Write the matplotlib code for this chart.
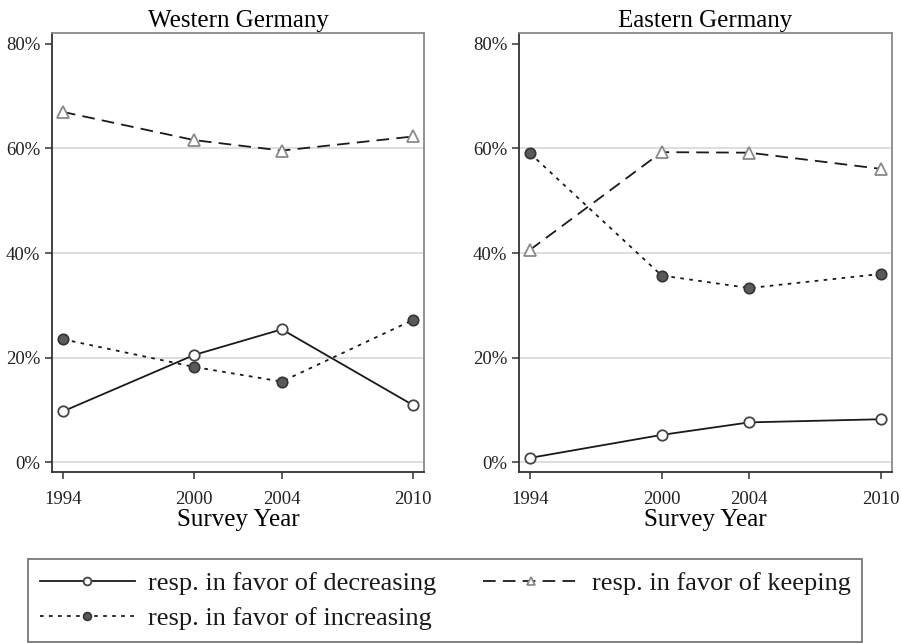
import matplotlib
matplotlib.use("Agg")
import matplotlib.pyplot as plt
from matplotlib.ticker import FuncFormatter

plt.rcParams['font.family'] = ['Liberation Serif', 'DejaVu Serif']

years = [1994, 2000, 2004, 2010]

# Western Germany
west_decr = [9.7, 20.5, 25.4, 10.9]
west_incr = [23.5, 18.2, 15.4, 27.2]
west_keep = [67.0, 61.6, 59.6, 62.3]

# Eastern Germany
east_decr = [0.8, 5.2, 7.6, 8.2]
east_incr = [59.1, 35.7, 33.3, 36.0]
east_keep = [40.6, 59.3, 59.2, 56.1]

yticks = [0, 20, 40, 60, 80]

fig = plt.figure(figsize=(9.01, 6.43), dpi=100)

def panel(ax, title, decr, incr, keep):
    for g in [0, 20, 40, 60]:
        ax.axhline(g, color='#d8d8d8', lw=1.2, zorder=0)
    ax.plot(years, decr, '-', color='#1a1a1a', lw=1.3, marker='o', ms=7.5,
            mfc='white', mec='#444444', mew=1.3,
            label='resp. in favor of decreasing')
    ax.plot(years, incr, color='#1a1a1a', lw=1.3, ls=(0, (2, 3)), marker='o',
            ms=7.5, mfc='#5a5a5a', mec='#333333', mew=1.2,
            label='resp. in favor of increasing')
    ax.plot(years, keep, color='#1a1a1a', lw=1.3, ls=(0, (7, 4)), marker='^',
            ms=8, mfc='white', mec='#8a8a8a', mew=1.3,
            label='resp. in favor of keeping')
    ax.set_xlim(1993.5, 2010.5)
    ax.set_ylim(-1.9, 82.1)
    ax.set_xticks(years)
    ax.set_yticks(yticks)
    ax.yaxis.set_major_formatter(FuncFormatter(lambda v, p: '%d%%' % v))
    ax.tick_params(labelsize=13.5, length=5, width=1.1, color='#333333',
                   labelcolor='#222222', direction='out')
    ax.tick_params(axis='x', pad=8.5)
    ax.set_title(title, fontsize=18, pad=4)
    ax.set_xlabel('Survey Year', fontsize=18, labelpad=1)
    ax.spines['left'].set_color('#333333')
    ax.spines['bottom'].set_color('#333333')
    ax.spines['top'].set_color('#8a8a8a')
    ax.spines['right'].set_color('#8a8a8a')
    for s in ax.spines.values():
        s.set_linewidth(1.3)

ax1 = fig.add_axes([0.0577, 0.2659, 0.4129, 0.6828])
panel(ax1, 'Western Germany', west_decr, west_incr, west_keep)
ax2 = fig.add_axes([0.576, 0.2659, 0.414, 0.6828])
panel(ax2, 'Eastern Germany', east_decr, east_incr, east_keep)

h, l = ax1.get_legend_handles_labels()
# first column: decreasing, increasing; second column: keeping
leg = fig.legend([h[0], h[1], h[2]], [l[0], l[1], l[2]], ncol=2,
                 loc='lower left', bbox_to_anchor=(0.031, 0.0015, 0.926, 0.126),
                 mode='expand', fontsize=19, frameon=True, fancybox=False,
                 handlelength=3.6, handletextpad=0.5, labelspacing=0.45,
                 borderpad=0.45, columnspacing=1.5, markerscale=0.75,
                 borderaxespad=0)
leg.get_frame().set_edgecolor('#555555')
leg.get_frame().set_linewidth(1.3)
for t in leg.get_texts():
    t.set_color('#1a1a1a')

fig.savefig('out.png', dpi=100)
